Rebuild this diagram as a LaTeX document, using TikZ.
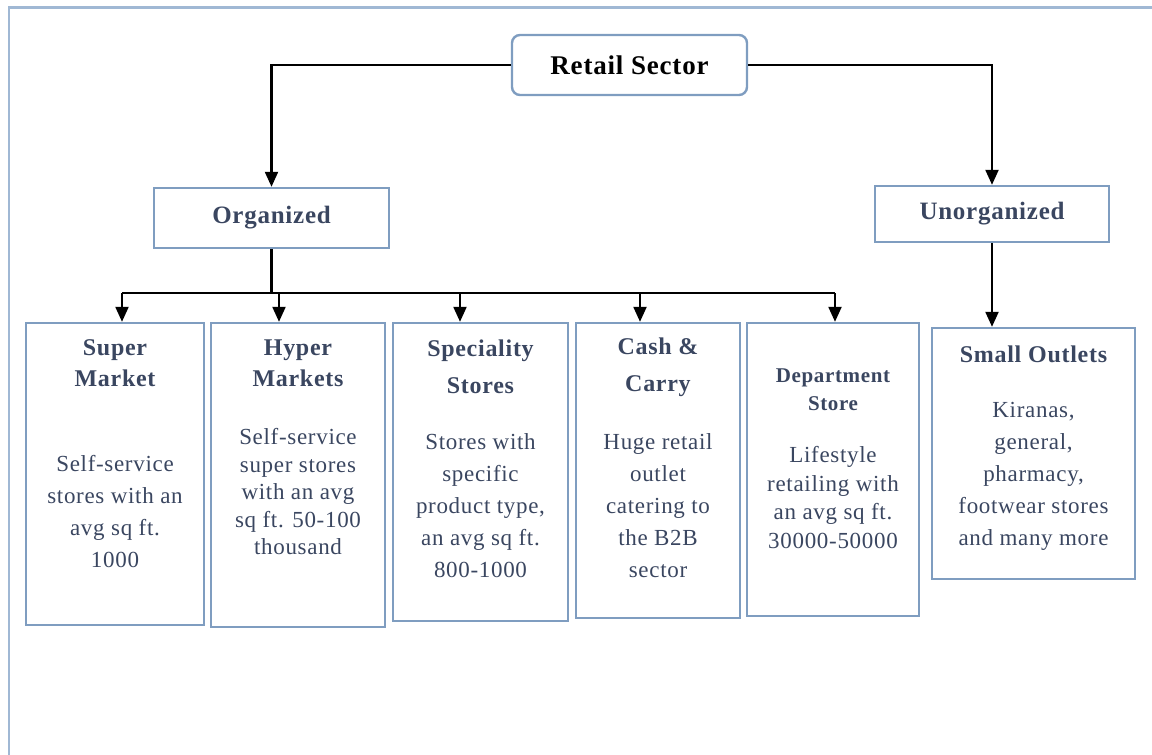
\documentclass[tikz,border=0pt]{standalone}
\usepackage{fontspec}
\setmainfont[LetterSpace=3]{Liberation Serif}
\usetikzlibrary{arrows.meta}
\definecolor{boxblue}{RGB}{127,157,192}
\definecolor{frameblue}{RGB}{160,184,212}
\definecolor{inkblue}{RGB}{58,70,96}
\tikzset{
  card/.style={draw=boxblue,line width=2.4pt,inner sep=0pt},
  head/.style={text=inkblue,align=center,inner sep=0pt,font=\fontsize{24}{#1}\selectfont\bfseries},
  head/.default=31,
  body/.style={text=inkblue,align=center,inner sep=0pt,font=\fontsize{23}{#1}\selectfont},
  body/.default=32,
  link/.style={line width=2.2pt,black}
}
\begin{document}
\begin{tikzpicture}[x=1pt,y=-1pt,>={Triangle[width=13pt,length=15pt]}]
  \useasboundingbox (0,0) rectangle (1152,755);
  \draw[frameblue,line width=2.5pt] (9,755)--(9,7.5)--(1152,7.5);

  \node[card,rounded corners=8pt,minimum width=235pt,minimum height=60pt,font=\fontsize{27}{32}\selectfont\bfseries] (retail) at (629.5,65) {Retail Sector};
  \node[card,minimum width=235pt,minimum height=60pt,text=inkblue,font=\fontsize{25}{30}\selectfont\bfseries] (org) at (271.5,218) {Organized};
  \node[card,minimum width=234pt,minimum height=56pt,text=inkblue,font=\fontsize{25}{30}\selectfont\bfseries] (unorg) at (992,214) {Unorganized};

  \node[card,minimum width=178pt,minimum height=302pt] (sm) at (115,474) {};
  \node[card,minimum width=174pt,minimum height=304pt] (hm) at (298,475) {};
  \node[card,minimum width=175pt,minimum height=298pt] (ss) at (480.5,472) {};
  \node[card,minimum width=164pt,minimum height=295pt] (cc) at (658,470.5) {};
  \node[card,minimum width=172pt,minimum height=293pt] (ds) at (833,469.5) {};
  \node[card,minimum width=203pt,minimum height=251pt] (so) at (1033.5,453.5) {};

  \node[head] (sm-t) at (115,363.5) {Super\\Market};
  \node[body] (sm-d) at (115,512) {Self-service\\stores with an\\avg sq ft.\\1000};
  \node[head] (hm-t) at (298,363.5) {Hyper\\Markets};
  \node[body=27.5] (hm-d) at (298,492) {Self-service\\super stores\\with an avg\\sq ft. 50-100\\thousand};
  \node[head=37] (ss-t) at (480.5,366.5) {Speciality\\Stores};
  \node[body] (ss-d) at (480.5,506) {Stores with\\specific\\product type,\\an avg sq ft.\\800-1000};
  \node[head=37] (cc-t) at (658,367.5) {Cash \&\\Carry};
  \node[body] (cc-d) at (658,506) {Huge retail\\outlet\\catering to\\the B2B\\sector};
  \node[head,font=\fontsize{21}{28}\selectfont\bfseries] (ds-t) at (833,390) {Department\\Store};
  \node[body=28.5] (ds-d) at (833,497.5) {Lifestyle\\retailing with\\an avg sq ft.\\30000-50000};
  \node[head] (so-t) at (1033.5,354) {Small Outlets};
  \node[body] (so-d) at (1033.5,476) {Kiranas,\\general,\\pharmacy,\\footwear stores\\and many more};

  \coordinate (b1) at (122,293);
  \coordinate (b2) at (279,293);
  \coordinate (b3) at (460,293);
  \coordinate (b4) at (640,293);
  \coordinate (b5) at (835,293);

  \draw[link,->] (retail.west) -| (org.north);
  \draw[link,->] (retail.east) -| (unorg.north);
  \draw[link] (org.south) -- (org.south |- b1);
  \draw[link] (b1) -- (b5);
  \draw[link,->] (b1) -- (b1 |- sm.north);
  \draw[link,->] (b2) -- (b2 |- hm.north);
  \draw[link,->] (b3) -- (b3 |- ss.north);
  \draw[link,->] (b4) -- (b4 |- cc.north);
  \draw[link,->] (b5) -- (b5 |- ds.north);
  \draw[link,->] (unorg.south) -- (unorg.south |- so.north);
\end{tikzpicture}
\end{document}
